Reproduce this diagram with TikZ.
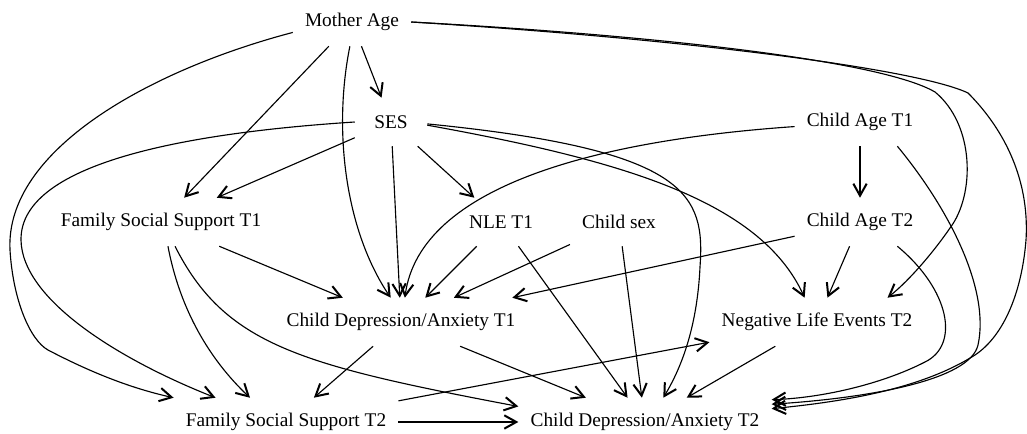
\documentclass[tikz,border=0pt]{standalone}
\usepackage{fontspec}
\setmainfont{Liberation Serif}
\usetikzlibrary{arrows.meta}

\begin{document}
\begin{tikzpicture}
  [x=0.75pt, y=-0.75pt,
   every node/.style={rectangle, inner xsep=9pt, inner ysep=0pt, minimum width=54pt,
     minimum height=36pt, font=\fontsize{14.5}{17}\selectfont},
   link/.style={line width=0.85pt, -{Straight Barb[length=9pt,width=10pt,line width=1.5pt]}}]
  \useasboundingbox (0,0) rectangle (1027,434);

  % ranks, top to bottom
  \node (ma)   at (352,22)  {Mother Age};
  \node (ses)  at (391,122) {SES};
  \node (ca1)  at (860,122) {Child Age T1};
  \node (fss1) at (161,222) {Family Social Support T1};
  \node (nle1) at (501,222) {NLE T1};
  \node (sex)  at (619,222) {Child sex};
  \node (ca2)  at (860,222) {Child Age T2};
  \node (cda1) at (401,322) {Child Depression/Anxiety T1};
  \node (nle2) at (817,322) {Negative Life Events T2};
  \node (fss2) at (286,422) {Family Social Support T2};
  \node (cda2) at (645,422) {Child Depression/Anxiety T2};

  % straight links
  \draw[link] (ma) -- (ses);
  \draw[link] (ma) -- (fss1);
  \draw[link] (ses) -- (fss1);
  \draw[link] (ses) -- (nle1);
  \draw[link] (ses) -- (cda1);
  \draw[link] (ca1) -- (ca2);
  \draw[link] (fss1) -- (cda1);
  \draw[link] (nle1) -- (cda1);
  \draw[link] (nle1) -- (cda2);
  \draw[link] (sex) -- (cda1);
  \draw[link] (sex) -- (cda2);
  \draw[link] (ca2) -- (cda1);
  \draw[link] (ca2) -- (nle2);
  \draw[link] (cda1) -- (fss2);
  \draw[link] (cda1) -- (cda2);
  \draw[link] (fss2) -- (nle2);
  \draw[link] (fss2) -- (cda2);
  \draw[link] (nle2) -- (cda2);

  % curved links
  \draw[link] (ma.-95) .. controls (333,130) and (345,230) .. (cda1.113);
  \draw[link] (ma.190) .. controls (150,70) and (5,150) .. (10,250)
    .. controls (13,300) and (30,340) .. (48,350)
    .. controls (90,372) and (130,388) .. (fss2.north west);
  \draw[link] (ma.east) .. controls (650,35) and (880,60) .. (935,92)
    .. controls (975,125) and (975,195) .. (950,228)
    .. controls (935,250) and (910,280) .. (nle2.19);
  \draw[link] (ma.east) .. controls (700,40) and (920,70) .. (968,93)
    .. controls (1000,125) and (1030,175) .. (1026,240)
    .. controls (1022,290) and (1005,335) .. (975,355)
    .. controls (920,390) and (840,402) .. (cda2.6);
  \draw[link] (ses.west) .. controls (200,132) and (20,160) .. (21,240)
    .. controls (22,300) and (120,360) .. (fss2.161);
  \draw[link] (ses.-5) .. controls (620,160) and (760,200) .. (nle2.117);
  \draw[link] (ses.-3) .. controls (690,150) and (705,195) .. (700,267)
    .. controls (697,330) and (680,370) .. (cda2.53);
  \draw[link] (ca1.184) .. controls (600,140) and (420,185) .. (cda1.81);
  \draw[link] (ca1.-33) .. controls (950,210) and (990,290) .. (978,345)
    .. controls (970,380) and (870,398) .. (cda2.8);
  \draw[link] (ca2.-33) .. controls (950,290) and (960,345) .. (925,362)
    .. controls (880,385) and (820,398) .. (cda2.10);
  \draw[link] (fss1.-74) .. controls (180,310) and (210,360) .. (fss2.146);
  \draw[link] (fss1.-60) .. controls (225,345) and (300,365) .. (cda2.173);
\end{tikzpicture}
\end{document}
